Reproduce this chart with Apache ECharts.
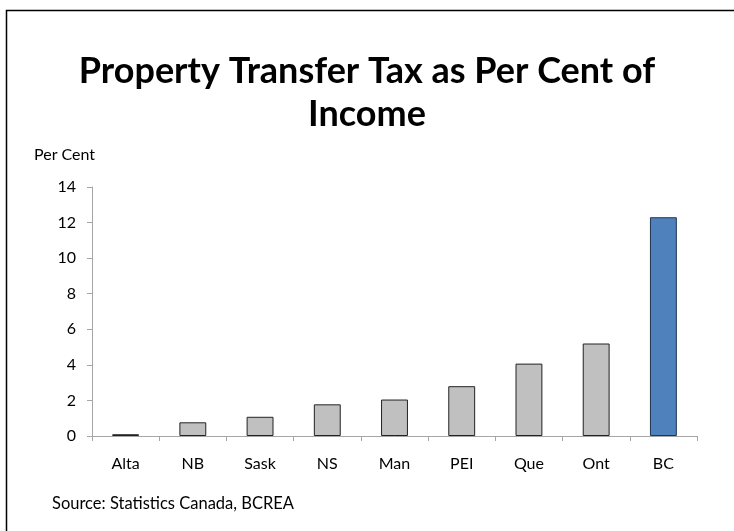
<!DOCTYPE html>
<html>
<head>
<meta charset="utf-8">
<script src="https://cdn.jsdelivr.net/npm/echarts@6/dist/echarts.min.js"></script>
<style>
  html, body { margin: 0; padding: 0; background: #fff; }
  #chart { width: 734px; height: 531px; }
</style>
</head>
<body>
<div id="chart"></div>
<script>
// Provinces, ordered from lowest to highest transfer tax burden
const provinces = ['Alta', 'NB', 'Sask', 'NS', 'Man', 'PEI', 'Que', 'Ont', 'BC'];
// Property transfer tax as a share of income, per cent
const taxPct = [0.1, 0.77, 1.08, 1.78, 2.05, 2.8, 4.07, 5.2, 12.3];
const highlighted = 'BC';
const yTicks = { min: 0, max: 14, interval: 2 };

const FONT = 'Lato, "Open Sans", sans-serif';

const chart = echarts.init(document.getElementById('chart'), null, { renderer: 'canvas' });

chart.setOption({
  backgroundColor: '#ffffff',
  animation: false,
  title: {
    text: 'Property Transfer Tax as Per Cent of\nIncome',
    left: 'center',
    top: 45,
    textStyle: {
      fontFamily: FONT,
      fontWeight: 'bold',
      fontSize: 36,
      lineHeight: 43,
      color: '#000'
    }
  },
  graphic: [
    {
      type: 'rect',
      shape: { x: 6.5, y: 10.5, width: 760, height: 560 },
      style: { fill: 'none', stroke: '#000', lineWidth: 1.5 },
      silent: true
    },
    {
      type: 'text',
      left: 34,
      top: 147,
      style: { text: 'Per Cent', font: '16px ' + FONT, fill: '#000' }
    },
    {
      type: 'text',
      left: 52,
      top: 495,
      style: { text: 'Source: Statistics Canada, BCREA', font: '16.5px ' + FONT, fill: '#000' }
    }
  ],
  grid: { left: 92, right: 37, top: 187, bottom: 95, containLabel: false },
  xAxis: {
    type: 'category',
    data: provinces,
    axisLine: { lineStyle: { color: '#a6a6a6', width: 1 } },
    axisTick: { show: true, length: 5, alignWithLabel: false, lineStyle: { color: '#a6a6a6' } },
    axisLabel: { fontFamily: FONT, fontSize: 16, color: '#000', margin: 20 }
  },
  yAxis: {
    type: 'value',
    min: yTicks.min,
    max: yTicks.max,
    interval: yTicks.interval,
    axisLine: { show: true, lineStyle: { color: '#a6a6a6', width: 1 } },
    axisTick: { show: true, length: 5, lineStyle: { color: '#a6a6a6' } },
    splitLine: { show: false },
    axisLabel: { fontFamily: FONT, fontSize: 16, color: '#000', margin: 16 }
  },
  series: [{
    type: 'bar',
    barWidth: '40%',
    data: provinces.map((p, i) => ({
      value: taxPct[i],
      itemStyle: {
        color: p === highlighted ? '#4f81bd' : '#c0c0c0',
        borderColor: p === highlighted ? '#1f3550' : '#222',
        borderWidth: 1
      }
    }))
  }]
});
</script>
</body>
</html>
